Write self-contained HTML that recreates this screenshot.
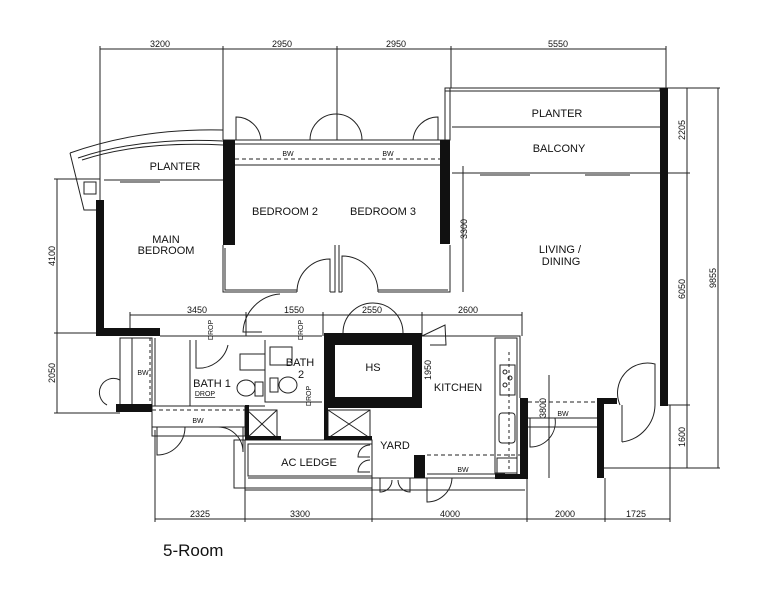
<!DOCTYPE html>
<html><head><meta charset="utf-8"><style>
html,body{margin:0;padding:0;background:#fff;}
svg{display:block;font-family:"Liberation Sans",sans-serif;}
text{fill:#111;}
</style></head><body>
<svg width="766" height="600" viewBox="0 0 766 600" xmlns="http://www.w3.org/2000/svg">
<rect width="766" height="600" fill="#fff"/>
<g stroke="#222" stroke-width="1" fill="none">
<line x1="100" y1="49" x2="666" y2="49"/>
<line x1="100" y1="46" x2="100" y2="200"/>
<line x1="223" y1="46" x2="223" y2="140"/>
<line x1="337" y1="46" x2="337" y2="140"/>
<line x1="451" y1="46" x2="451" y2="88"/>
<line x1="666" y1="46" x2="666" y2="88"/>
<line x1="660" y1="88" x2="720" y2="88"/>
<line x1="687" y1="88" x2="687" y2="468"/>
<line x1="718" y1="88" x2="718" y2="468"/>
<line x1="660" y1="173" x2="690" y2="173"/>
<line x1="660" y1="405" x2="690" y2="405"/>
<line x1="604" y1="468" x2="720" y2="468"/>
<line x1="57" y1="179" x2="57" y2="413"/>
<line x1="54" y1="179" x2="100" y2="179"/>
<line x1="54" y1="333" x2="100" y2="333"/>
<line x1="54" y1="413" x2="120" y2="413"/>
<line x1="130" y1="315" x2="522" y2="315"/>
<line x1="130" y1="312" x2="130" y2="336"/>
<line x1="246" y1="312" x2="246" y2="336"/>
<line x1="323" y1="312" x2="323" y2="336"/>
<line x1="422" y1="312" x2="422" y2="336"/>
<line x1="522" y1="312" x2="522" y2="336"/>
<line x1="463" y1="166" x2="463" y2="292"/>
<line x1="416" y1="333" x2="416" y2="408"/>
<line x1="549" y1="375" x2="549" y2="478"/>
<line x1="155" y1="519" x2="670" y2="519"/>
<line x1="155" y1="430" x2="155" y2="522"/>
<line x1="245" y1="440" x2="245" y2="522"/>
<line x1="372" y1="440" x2="372" y2="522"/>
<line x1="527" y1="478" x2="527" y2="522"/>
<line x1="605" y1="478" x2="605" y2="522"/>
<line x1="670" y1="405" x2="670" y2="522"/>
<rect x="445" y="88" width="215" height="3"/>
<rect x="445" y="88" width="5" height="52"/>
<line x1="452" y1="127" x2="660" y2="127"/>
<line x1="452" y1="173" x2="660" y2="173"/>
<line x1="480" y1="175" x2="530" y2="175" stroke="#666" stroke-width="1.5"/>
<line x1="585" y1="175" x2="630" y2="175" stroke="#666" stroke-width="1.5"/>
<path d="M70,153 Q140,128 223,130"/>
<path d="M78,158 Q140,137 223,141"/>
<path d="M82,160 Q140,141 223,145"/>
<path d="M70,153 L84,210 L100,210"/>
<rect x="84" y="182" width="12" height="12"/>
<line x1="104" y1="180" x2="223" y2="180"/>
<line x1="120" y1="182" x2="160" y2="182" stroke="#666" stroke-width="1.5"/>
<line x1="223" y1="140" x2="450" y2="140"/>
<line x1="235" y1="144" x2="450" y2="144"/>
<line x1="235" y1="159" x2="440" y2="159" stroke-dasharray="4,3"/>
<line x1="235" y1="165" x2="440" y2="165"/>
<path d="M223,245 V292 H297 M330,292 H335 V245 M339,245 V292 H342 M378,292 H450 V245"/>
<path d="M225,248 V290 H297 M378,290 H448"/>
<path d="M297,292 A33,33 0 0 1 330,259 V292"/>
<path d="M378,292 A36,36 0 0 0 342,256 V292"/>
<path d="M236,140 V117 A25,25 0 0 1 261,140"/>
<path d="M310,140 A26,26 0 0 1 362,140"/>
<path d="M438,140 V117 A25,25 0 0 0 413,140"/>
<path d="M280,294 A40,40 0 0 0 243,332 H262"/>
<path d="M343,333 A30,30 0 0 1 403,333"/>
<line x1="160" y1="336" x2="322" y2="336"/>
<rect x="120" y="338" width="32" height="68"/>
<line x1="132" y1="338" x2="132" y2="406"/>
<line x1="150" y1="338" x2="150" y2="406" stroke-dasharray="3,3"/>
<line x1="155" y1="338" x2="155" y2="406"/>
<path d="M120,380 A12,12 0 0 0 107,405"/>
<path d="M190,340 V406 H265 M265,340 V402 H322"/>
<path d="M196,340 V368 A30,30 0 0 0 228,345"/>
<rect x="240" y="354" width="25" height="16"/>
<rect x="270" y="347" width="22" height="18"/>
<ellipse cx="246" cy="388" rx="9" ry="8"/>
<rect x="255" y="382" width="8" height="14"/>
<ellipse cx="288" cy="385" rx="9" ry="8"/>
<rect x="270" y="378" width="8" height="14"/>
<rect x="152" y="406" width="93" height="30"/>
<line x1="152" y1="410" x2="245" y2="410" stroke-dasharray="4,3"/>
<line x1="152" y1="427" x2="245" y2="427"/>
<path d="M157,427 V455 A28,28 0 0 0 185,427"/>
<path d="M218,427 A25,25 0 0 1 243,452 V427"/>
<rect x="234" y="440" width="138" height="48"/>
<rect x="248" y="444" width="124" height="32"/>
<line x1="248" y1="478" x2="525" y2="478"/>
<line x1="245" y1="490" x2="525" y2="490"/>
<path d="M370,445 A12,12 0 0 0 358,457 H370 M370,460 A12,12 0 0 0 358,472 H370"/>
<path d="M380,478 V492 A12,12 0 0 0 392,480 M410,478 V492 A12,12 0 0 1 398,480"/>
<path d="M427,478 V502 A25,25 0 0 0 452,478"/>
<line x1="427" y1="455" x2="520" y2="455" stroke-dasharray="4,3"/>
<line x1="427" y1="474" x2="505" y2="474"/>
<path d="M422,336 H520 V398"/>
<rect x="495" y="338" width="22" height="135"/>
<rect x="500" y="365" width="15" height="30"/>
<circle cx="505" cy="372" r="2"/><circle cx="510" cy="378" r="2"/><circle cx="505" cy="385" r="2"/>
<rect x="499" y="413" width="16" height="30" rx="3"/>
<line x1="509" y1="352" x2="509" y2="470" stroke-dasharray="3,3"/>
<path d="M422,336 L445,325 L446,345 L430,345"/>
<rect x="497" y="458" width="20" height="17"/>
<line x1="528" y1="402" x2="597" y2="402" stroke-dasharray="4,3"/>
<line x1="528" y1="418" x2="597" y2="418"/>
<line x1="528" y1="427" x2="597" y2="427"/>
<path d="M530,418 V447 A25,25 0 0 0 555,418"/>
<path d="M622,442 V405 M622,442 A38,38 0 0 0 655,405 M620,405 A30,30 0 0 1 655,364 V405"/>
<rect x="328" y="410" width="42" height="28"/>
<rect x="247" y="410" width="30" height="28"/>
<line x1="328" y1="410" x2="370" y2="438"/><line x1="370" y1="410" x2="328" y2="438"/>
<line x1="247" y1="410" x2="277" y2="438"/><line x1="277" y1="410" x2="247" y2="438"/>
</g>
<g fill="#111">
<rect x="660" y="88" width="8" height="318"/>
<rect x="440" y="140" width="10" height="104"/>
<rect x="223" y="140" width="12" height="105"/>
<rect x="96" y="200" width="8" height="134"/>
<rect x="96" y="328" width="64" height="8"/>
<rect x="116" y="404" width="36" height="8"/>
<rect x="324" y="333" width="98" height="12"/>
<rect x="324" y="333" width="11" height="75"/>
<rect x="412" y="333" width="10" height="75"/>
<rect x="324" y="397" width="98" height="11"/>
<rect x="324" y="405" width="4" height="33"/>
<rect x="245" y="405" width="4" height="33"/>
<rect x="245" y="436" width="36" height="4"/>
<rect x="324" y="436" width="48" height="4"/>
<rect x="520" y="398" width="8" height="80"/>
<rect x="495" y="474" width="33" height="5"/>
<rect x="414" y="455" width="11" height="23"/>
<rect x="597" y="398" width="7" height="80"/>
<rect x="597" y="398" width="20" height="6"/>
</g>
<g font-size="9" text-anchor="middle">
<text x="160" y="47">3200</text><text x="282" y="47">2950</text><text x="396" y="47">2950</text><text x="558" y="47">5550</text>
<text x="197" y="313">3450</text><text x="294" y="313">1550</text><text x="372" y="313">2550</text><text x="468" y="313">2600</text>
<text x="200" y="517">2325</text><text x="300" y="517">3300</text><text x="450" y="517">4000</text><text x="565" y="517">2000</text><text x="636" y="517">1725</text>
<text transform="translate(55,256) rotate(-90)">4100</text>
<text transform="translate(55,373) rotate(-90)">2050</text>
<text transform="translate(685,130) rotate(-90)">2205</text>
<text transform="translate(685,289) rotate(-90)">6050</text>
<text transform="translate(716,278) rotate(-90)">9855</text>
<text transform="translate(685,437) rotate(-90)">1600</text>
<text transform="translate(467,229) rotate(-90)">3300</text>
<text transform="translate(431,370) rotate(-90)">1950</text>
<text transform="translate(546,408) rotate(-90)">3800</text>
</g>
<g font-size="7" text-anchor="middle">
<text x="288" y="156">BW</text><text x="388" y="156">BW</text>
<text x="143" y="375">BW</text><text x="198" y="423">BW</text><text x="463" y="472">BW</text><text x="563" y="416">BW</text>
<text x="205" y="396" text-decoration="underline">DROP</text>
<text transform="translate(213,330) rotate(-90)">DROP</text>
<text transform="translate(303,330) rotate(-90)">DROP</text>
<text transform="translate(311,396) rotate(-90)">DROP</text>
</g>
<g font-size="11" text-anchor="middle">
<text x="557" y="117">PLANTER</text>
<text x="559" y="152">BALCONY</text>
<text x="175" y="170">PLANTER</text>
<text x="285" y="215">BEDROOM 2</text>
<text x="383" y="215">BEDROOM 3</text>
<text x="166" y="243">MAIN</text><text x="166" y="254">BEDROOM</text>
<text x="560" y="253">LIVING /</text><text x="561" y="265">DINING</text>
<text x="212" y="387">BATH 1</text>
<text x="300" y="366">BATH</text><text x="301" y="378">2</text>
<text x="373" y="371">HS</text>
<text x="458" y="391">KITCHEN</text>
<text x="309" y="466">AC LEDGE</text>
<text x="395" y="449">YARD</text>
</g>
<text x="163" y="556" font-size="17">5-Room</text>
</svg>
</body></html>
